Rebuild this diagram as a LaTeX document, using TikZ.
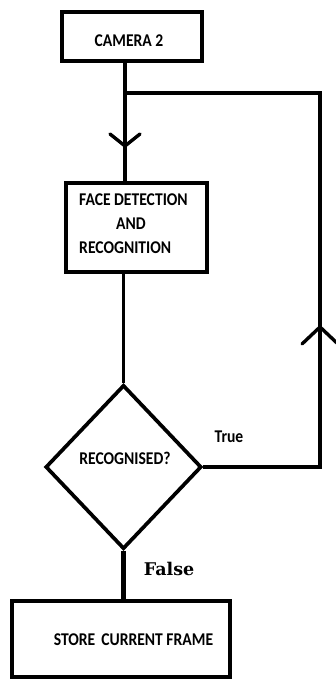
\documentclass[tikz,border=0pt]{standalone}
\usepackage{fontspec}
\setmainfont{Carlito}
\newfontfamily\falsefont{DejaVu Serif}
\usetikzlibrary{shapes.geometric}
\newcommand{\tall}[1]{\scalebox{1}[1.15]{#1}}
\begin{document}
\begin{tikzpicture}[x=1pt,y=-1pt,
  line width=3.7pt,
  box/.style={draw, rectangle, inner sep=0pt},
  lbl/.style={inner sep=0pt, font=\bfseries\fontsize{15.6}{20.9}\selectfont},
  tip/.style={line width=3.4pt, line cap=round, line join=miter}
]
\useasboundingbox (0,0) rectangle (335,680);
\node[box, minimum width=140pt, minimum height=49pt] (cam) at (132,36.5) {};
\node[lbl] (camtxt) at (129,41) {\tall{CAMERA 2}};
\node[box, minimum width=141pt, minimum height=89pt] (face) at (136.5,227.5) {};
\node[lbl] (facetxt) at (133.5,225) {\tall{\begin{tabular}{@{}l@{}}FACE DETECTION\\\hspace*{37pt}AND\\RECOGNITION\end{tabular}}};
\node[draw, diamond, inner sep=0pt, minimum width=156pt, minimum height=164pt] (dia) at (123.5,467) {};
\node[lbl] (diatxt) at (125,458) {\tall{RECOGNISED?}};
\node[box, minimum width=218pt, minimum height=76pt] (store) at (121,639) {};
\node[lbl] (storetxt) at (133.5,640) {\tall{STORE\hspace{6pt}CURRENT FRAME}};
\node[lbl] (truetxt) at (229,437) {\tall{True}};
\node[inner sep=0pt, font=\falsefont\bfseries\fontsize{17.5}{20}\selectfont] (falsetxt) at (169,569) {False};
\coordinate (j) at (125,93);
\coordinate (tr) at (320,93);
\coordinate (t1) at (125,146);
\coordinate (t2) at (320,327);
% connectors
\draw (j |- cam.south) -- (j |- face.north);
\draw (j) -- (tr) -- (tr |- dia.east) -- (dia.east);
\draw (dia.north |- face.south) -- (dia.north);
\draw[line width=5pt] (dia.south) -- (dia.south |- store.north);
% arrow heads
\draw[tip] ([xshift=-15pt,yshift=12pt]t1) -- (t1) -- ([xshift=15pt,yshift=12pt]t1);
\draw[tip] ([xshift=-18pt,yshift=-17pt]t2) -- (t2) -- ([xshift=18pt,yshift=-17pt]t2);
\end{tikzpicture}
\end{document}
